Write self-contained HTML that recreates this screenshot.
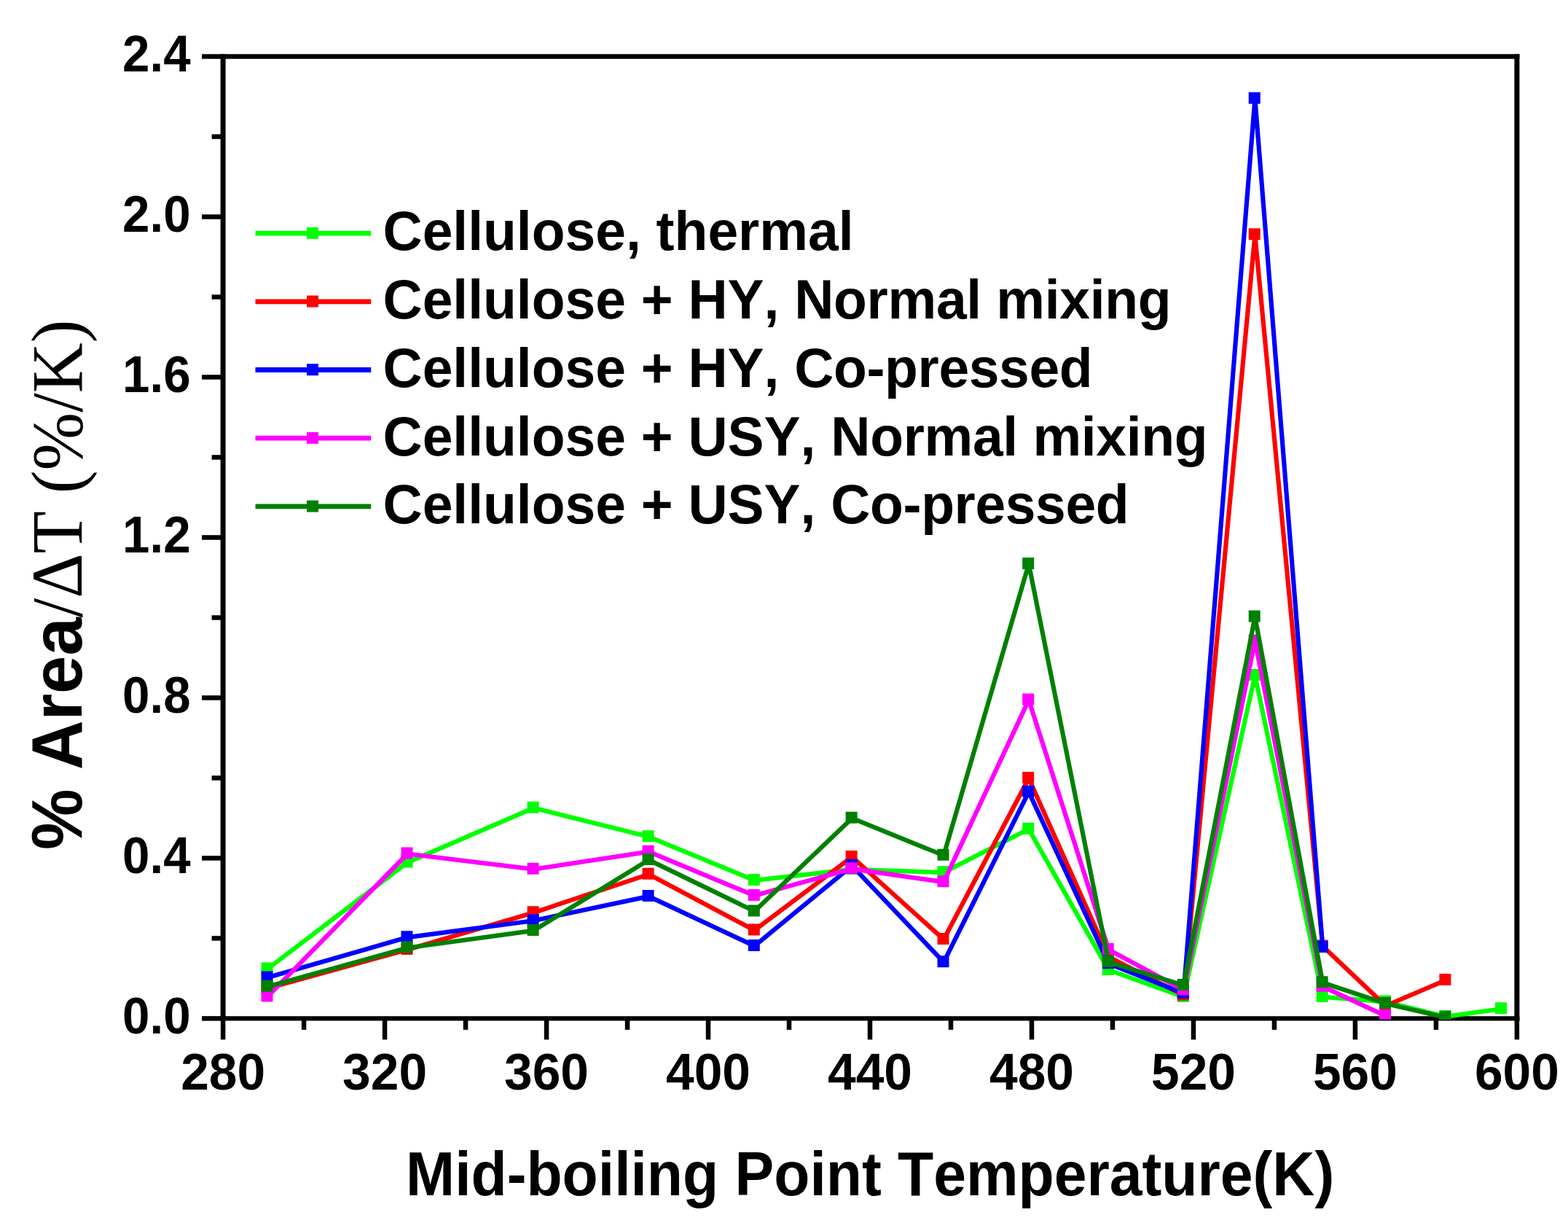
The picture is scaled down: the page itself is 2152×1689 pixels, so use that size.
<!DOCTYPE html>
<html lang="en"><head><meta charset="utf-8"><title>Mid-boiling point distribution</title>
<style>
html,body{margin:0;padding:0;background:#fff;}
body{width:2152px;height:1689px;overflow:hidden;}
svg{display:block;}
text{font-kerning:none;font-variant-ligatures:none;white-space:pre;}
.s{font-family:"Liberation Sans",Arial,Helvetica,sans-serif;font-weight:700;fill:#000;}
.r{font-family:"Liberation Serif","Times New Roman",Times,serif;font-weight:400;fill:#000;}
</style></head><body>
<svg width="2152" height="1689" viewBox="0 0 2152 1689" role="img" aria-label="Line chart: % Area per delta T versus mid-boiling point temperature">
<defs><clipPath id="plot"><rect x="286.1" y="77.5" width="1815.8" height="1321.2"/></clipPath></defs>
<rect width="2152" height="1689" fill="#fff"/>
<g stroke="#000" fill="none" stroke-linecap="butt">
<path d="M302.6 77.5H2085.4M302.6 1397.4H2085.4" stroke-width="6.4"/>
<path d="M306.1 74.3V1400.6M2081.9 74.3V1400.6" stroke-width="7"/>
</g>
<g stroke="#000" stroke-width="6.5" stroke-linecap="butt">
<line x1="306.1" y1="1397.4" x2="306.1" y2="1426.4"/>
<line x1="417.09" y1="1397.4" x2="417.09" y2="1412.9"/>
<line x1="528.08" y1="1397.4" x2="528.08" y2="1426.4"/>
<line x1="639.06" y1="1397.4" x2="639.06" y2="1412.9"/>
<line x1="750.05" y1="1397.4" x2="750.05" y2="1426.4"/>
<line x1="861.04" y1="1397.4" x2="861.04" y2="1412.9"/>
<line x1="972.03" y1="1397.4" x2="972.03" y2="1426.4"/>
<line x1="1083.01" y1="1397.4" x2="1083.01" y2="1412.9"/>
<line x1="1194" y1="1397.4" x2="1194" y2="1426.4"/>
<line x1="1304.99" y1="1397.4" x2="1304.99" y2="1412.9"/>
<line x1="1415.98" y1="1397.4" x2="1415.98" y2="1426.4"/>
<line x1="1526.96" y1="1397.4" x2="1526.96" y2="1412.9"/>
<line x1="1637.95" y1="1397.4" x2="1637.95" y2="1426.4"/>
<line x1="1748.94" y1="1397.4" x2="1748.94" y2="1412.9"/>
<line x1="1859.93" y1="1397.4" x2="1859.93" y2="1426.4"/>
<line x1="1970.91" y1="1397.4" x2="1970.91" y2="1412.9"/>
<line x1="2081.9" y1="1397.4" x2="2081.9" y2="1426.4"/>
<line x1="277.1" y1="1397.4" x2="306.1" y2="1397.4"/>
<line x1="290.6" y1="1287.41" x2="306.1" y2="1287.41"/>
<line x1="277.1" y1="1177.42" x2="306.1" y2="1177.42"/>
<line x1="290.6" y1="1067.42" x2="306.1" y2="1067.42"/>
<line x1="277.1" y1="957.43" x2="306.1" y2="957.43"/>
<line x1="290.6" y1="847.44" x2="306.1" y2="847.44"/>
<line x1="277.1" y1="737.45" x2="306.1" y2="737.45"/>
<line x1="290.6" y1="627.46" x2="306.1" y2="627.46"/>
<line x1="277.1" y1="517.47" x2="306.1" y2="517.47"/>
<line x1="290.6" y1="407.48" x2="306.1" y2="407.48"/>
<line x1="277.1" y1="297.48" x2="306.1" y2="297.48"/>
<line x1="290.6" y1="187.49" x2="306.1" y2="187.49"/>
<line x1="277.1" y1="77.5" x2="306.1" y2="77.5"/>
</g>
<text class="s" font-size="69.5" text-anchor="end" transform="translate(261.6 1417.8) scale(0.968 1.01)">0.0</text>
<text class="s" font-size="69.5" text-anchor="end" transform="translate(261.6 1197.82) scale(0.968 1.01)">0.4</text>
<text class="s" font-size="69.5" text-anchor="end" transform="translate(261.6 977.83) scale(0.968 1.01)">0.8</text>
<text class="s" font-size="69.5" text-anchor="end" transform="translate(261.6 757.85) scale(0.968 1.01)">1.2</text>
<text class="s" font-size="69.5" text-anchor="end" transform="translate(261.6 537.87) scale(0.968 1.01)">1.6</text>
<text class="s" font-size="69.5" text-anchor="end" transform="translate(261.6 317.88) scale(0.968 1.01)">2.0</text>
<text class="s" font-size="69.5" text-anchor="end" transform="translate(261.6 97.9) scale(0.968 1.01)">2.4</text>
<text class="s" font-size="69.5" text-anchor="middle" transform="translate(306.1 1494.6) scale(1 1.01)">280</text>
<text class="s" font-size="69.5" text-anchor="middle" transform="translate(528.08 1494.6) scale(1 1.01)">320</text>
<text class="s" font-size="69.5" text-anchor="middle" transform="translate(750.05 1494.6) scale(1 1.01)">360</text>
<text class="s" font-size="69.5" text-anchor="middle" transform="translate(972.03 1494.6) scale(1 1.01)">400</text>
<text class="s" font-size="69.5" text-anchor="middle" transform="translate(1194 1494.6) scale(1 1.01)">440</text>
<text class="s" font-size="69.5" text-anchor="middle" transform="translate(1415.98 1494.6) scale(1 1.01)">480</text>
<text class="s" font-size="69.5" text-anchor="middle" transform="translate(1637.95 1494.6) scale(1 1.01)">520</text>
<text class="s" font-size="69.5" text-anchor="middle" transform="translate(1859.93 1494.6) scale(1 1.01)">560</text>
<text class="s" font-size="69.5" text-anchor="middle" transform="translate(2081.9 1494.6) scale(1 1.01)">600</text>
<text class="s" font-size="80.5" text-anchor="middle" transform="translate(1194.2 1639.6) scale(1 1.05)">Mid-boiling Point Temperature(K)</text>
<text class="s" font-size="94" transform="translate(111.6 1166) rotate(-90) scale(1 1.05)">% Area<tspan class="r" font-size="95.5" dx="0">/ΔT (%/K)</tspan></text>
<g clip-path="url(#plot)">
<polyline points="367.2,1329.4 559.2,1183.3 732.3,1108.6 890.3,1148.1 1035.5,1207.9 1169.3,1192.9 1295.2,1197.1 1411.9,1137.6 1521.5,1330.9 1624.4,1367.9 1722.4,926.8 1815.3,1367.9 1901.7,1374.4 1984.1,1394.9 2060.7,1384.2" fill="none" stroke="#00ff00" stroke-width="6.2" stroke-linejoin="round" stroke-linecap="butt"/>
<path d="M358.5 1320.5h16v16h-16zM550.5 1174.4h16v16h-16zM723.6 1099.7h16v16h-16zM881.6 1139.2h16v16h-16zM1026.8 1199h16v16h-16zM1160.6 1184h16v16h-16zM1286.5 1188.2h16v16h-16zM1403.2 1128.7h16v16h-16zM1512.8 1322h16v16h-16zM1615.7 1359h16v16h-16zM1713.7 917.9h16v16h-16zM1806.6 1359h16v16h-16zM1893 1365.5h16v16h-16zM1975.4 1386h16v16h-16zM2052 1375.3h16v16h-16z" fill="#00ff00"/>
<polyline points="367.2,1355.9 559.2,1302.9 732.3,1252.2 890.3,1199.6 1035.5,1276.4 1169.3,1175.8 1295.2,1288.9 1411.9,1068 1521.5,1312.9 1624.4,1365.6 1722.4,322.2 1815.3,1298.3 1901.7,1380 1984.1,1344.9" fill="none" stroke="#ff0000" stroke-width="6.2" stroke-linejoin="round" stroke-linecap="butt"/>
<path d="M358.5 1347h16v16h-16zM550.5 1294h16v16h-16zM723.6 1243.3h16v16h-16zM881.6 1190.7h16v16h-16zM1026.8 1267.5h16v16h-16zM1160.6 1166.9h16v16h-16zM1286.5 1280h16v16h-16zM1403.2 1059.1h16v16h-16zM1512.8 1304h16v16h-16zM1615.7 1356.7h16v16h-16zM1713.7 313.3h16v16h-16zM1806.6 1289.4h16v16h-16zM1893 1371.1h16v16h-16zM1975.4 1336h16v16h-16z" fill="#ff0000"/>
<polyline points="367.2,1341.3 559.2,1286.1 732.3,1263.2 890.3,1229.9 1035.5,1297.9 1169.3,1187.9 1295.2,1320.2 1411.9,1086.6 1521.5,1322.2 1624.4,1362.9 1722.4,135.5 1815.3,1299.8" fill="none" stroke="#0000ff" stroke-width="6.2" stroke-linejoin="round" stroke-linecap="butt"/>
<path d="M358.5 1332.4h16v16h-16zM550.5 1277.2h16v16h-16zM723.6 1254.3h16v16h-16zM881.6 1221h16v16h-16zM1026.8 1289h16v16h-16zM1160.6 1179h16v16h-16zM1286.5 1311.3h16v16h-16zM1403.2 1077.7h16v16h-16zM1512.8 1313.3h16v16h-16zM1615.7 1354h16v16h-16zM1713.7 126.6h16v16h-16zM1806.6 1290.9h16v16h-16z" fill="#0000ff"/>
<polyline points="367.2,1367.3 559.2,1171.5 732.3,1192.6 890.3,1168.6 1035.5,1228.8 1169.3,1192.1 1295.2,1210.1 1411.9,960.4 1521.5,1302.9 1624.4,1358.4 1722.4,879.4 1815.3,1353.6 1901.7,1393.9" fill="none" stroke="#ff00ff" stroke-width="6.2" stroke-linejoin="round" stroke-linecap="butt"/>
<path d="M358.5 1358.4h16v16h-16zM550.5 1162.6h16v16h-16zM723.6 1183.7h16v16h-16zM881.6 1159.7h16v16h-16zM1026.8 1219.9h16v16h-16zM1160.6 1183.2h16v16h-16zM1286.5 1201.2h16v16h-16zM1403.2 951.5h16v16h-16zM1512.8 1294h16v16h-16zM1615.7 1349.5h16v16h-16zM1713.7 870.5h16v16h-16zM1806.6 1344.7h16v16h-16zM1893 1385h16v16h-16z" fill="#ff00ff"/>
<polyline points="367.2,1353.7 559.2,1300.5 732.3,1276.9 890.3,1179.9 1035.5,1250.3 1169.3,1122.7 1295.2,1173.7 1411.9,773.9 1521.5,1319.9 1624.4,1351.9 1722.4,846.4 1815.3,1348.2 1901.7,1376.9 1984.1,1395.9" fill="none" stroke="#008000" stroke-width="6.2" stroke-linejoin="round" stroke-linecap="butt"/>
<path d="M358.5 1344.8h16v16h-16zM550.5 1291.6h16v16h-16zM723.6 1268h16v16h-16zM881.6 1171h16v16h-16zM1026.8 1241.4h16v16h-16zM1160.6 1113.8h16v16h-16zM1286.5 1164.8h16v16h-16zM1403.2 765h16v16h-16zM1512.8 1311h16v16h-16zM1615.7 1343h16v16h-16zM1713.7 837.5h16v16h-16zM1806.6 1339.3h16v16h-16zM1893 1368h16v16h-16zM1975.4 1387h16v16h-16z" fill="#008000"/>
</g>
<line x1="350.5" y1="320.1" x2="509.2" y2="320.1" stroke="#00ff00" stroke-width="6.8"/>
<rect x="421" y="311.8" width="16" height="16" fill="#00ff00"/>
<text class="s" font-size="75" text-anchor="start" transform="translate(525.5 343.4) scale(1 1.02)">Cellulose, thermal</text>
<line x1="350.5" y1="413.8" x2="509.2" y2="413.8" stroke="#ff0000" stroke-width="6.8"/>
<rect x="421" y="405.5" width="16" height="16" fill="#ff0000"/>
<text class="s" font-size="75" text-anchor="start" transform="translate(525.5 437.1) scale(1 1.02)">Cellulose + HY, <tspan letter-spacing="-0.3">Normal mixing</tspan></text>
<line x1="350.5" y1="507.5" x2="509.2" y2="507.5" stroke="#0000ff" stroke-width="6.8"/>
<rect x="421" y="499.2" width="16" height="16" fill="#0000ff"/>
<text class="s" font-size="75" text-anchor="start" transform="translate(525.5 530.8) scale(1 1.02)">Cellulose + HY, <tspan letter-spacing="-0.36">Co-pressed</tspan></text>
<line x1="350.5" y1="601.2" x2="509.2" y2="601.2" stroke="#ff00ff" stroke-width="6.8"/>
<rect x="421" y="592.9" width="16" height="16" fill="#ff00ff"/>
<text class="s" font-size="75" text-anchor="start" transform="translate(525.5 624.5) scale(1 1.02)">Cellulose + USY, <tspan letter-spacing="-0.3">Normal mixing</tspan></text>
<line x1="350.5" y1="694.9" x2="509.2" y2="694.9" stroke="#008000" stroke-width="6.8"/>
<rect x="421" y="686.6" width="16" height="16" fill="#008000"/>
<text class="s" font-size="75" text-anchor="start" transform="translate(525.5 718.2) scale(1 1.02)">Cellulose + USY, <tspan letter-spacing="-0.36">Co-pressed</tspan></text>
</svg>
</body></html>
